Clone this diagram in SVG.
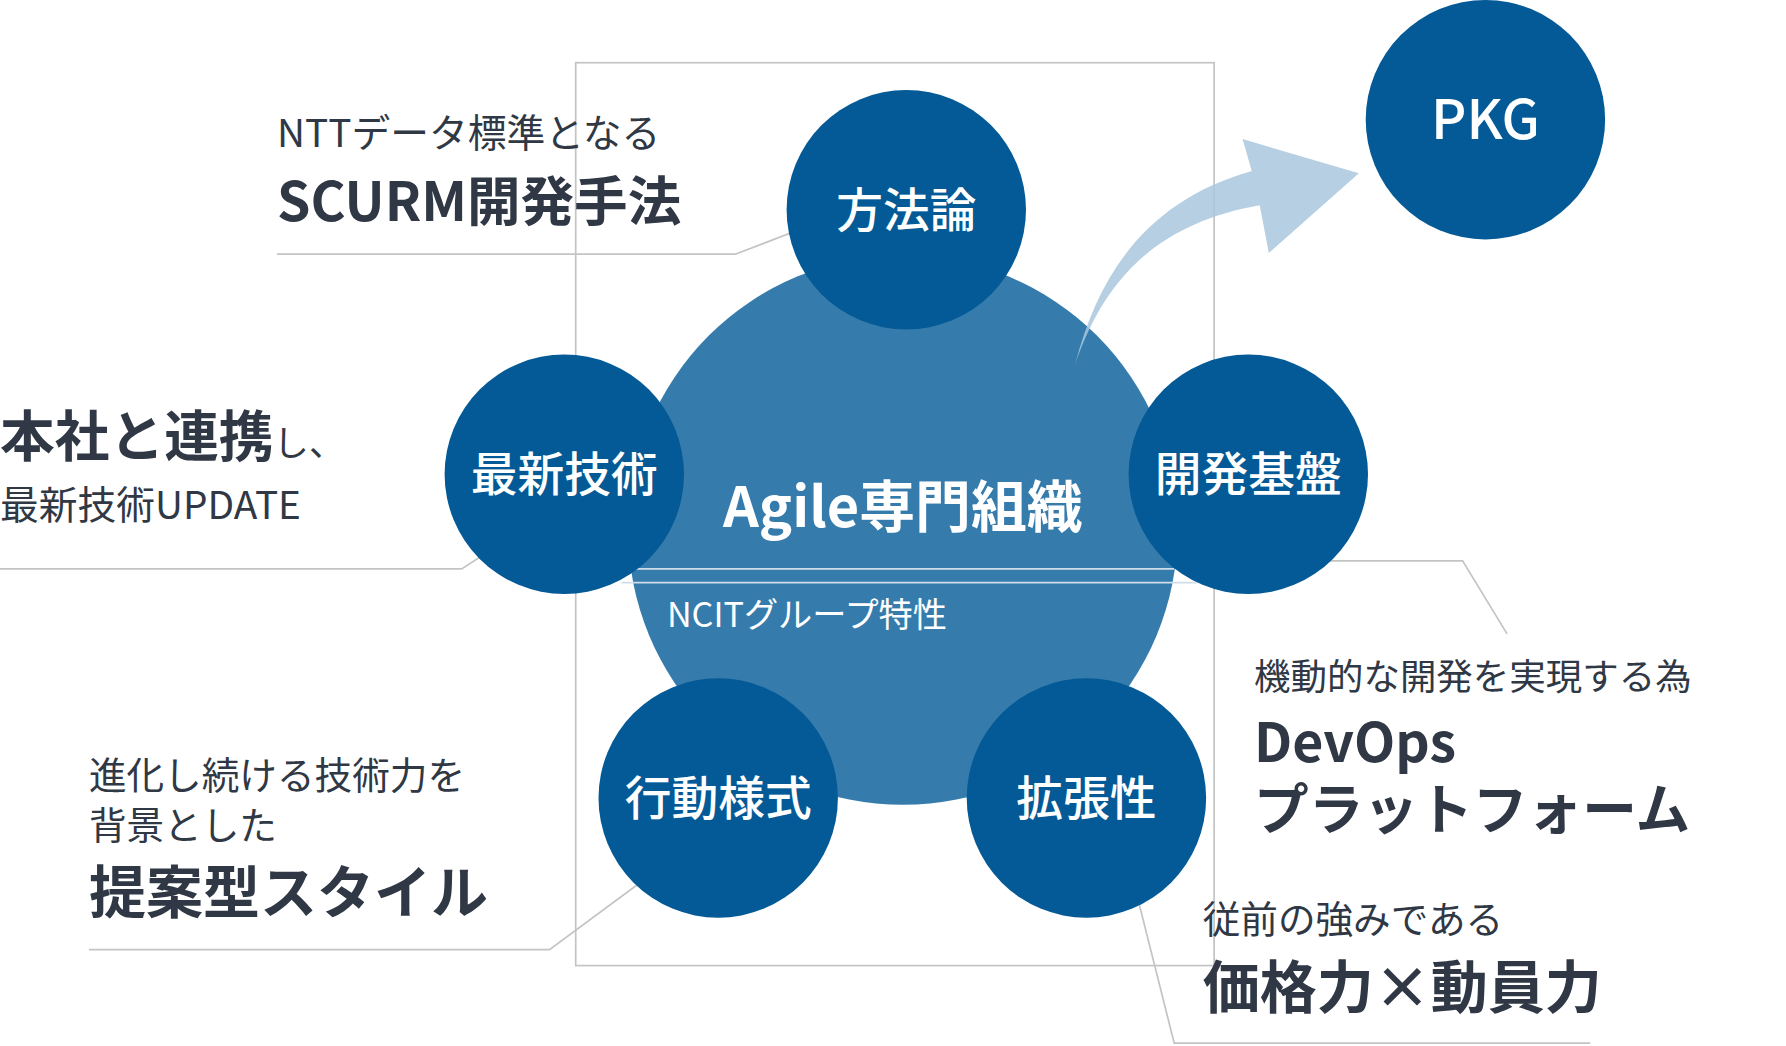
<svg xmlns="http://www.w3.org/2000/svg" width="1786" height="1046" viewBox="0 0 1786 1046">
<style>
.c{fill:#035a96}
.w{fill:#fff;font-family:"Noto Sans CJK JP","Noto Sans",sans-serif;text-anchor:middle;font-weight:500}
.t{fill:#2f3844;font-family:"Noto Sans CJK JP","Noto Sans",sans-serif}
.b{font-weight:700}
.l{fill:none;stroke:#c4c4c4;stroke-width:1.5}
</style>
<rect width="1786" height="1046" fill="#fff"/>
<g transform="scale(1.14)">
<rect x="505" y="55" width="560" height="792" class="l"/>
<g id="core"><circle cx="792" cy="465" r="241" fill="#357cad"/>
<text x="792" y="462" class="w b" font-size="49">Agile専門組織</text>
<text x="585" y="550" class="t" style="fill:#fff" font-size="30">NCITグループ特性</text></g>
<g id="connectors">
<path d="M943 320 C970 240 1020 195 1105 180 L1113 222 L1192 152 L1090 122 L1098 150 C1010 175 965 235 943 320 Z" fill="#a9c7de" opacity="0.85"/>
<path d="M718 195 L645 223 L243 223" class="l"/>
<path d="M442 475 L405 499 L0 499" class="l"/>
<path d="M1148 492 L1283 492 L1322 556" class="l"/>
<path d="M570 768 L482 833 L78 833" class="l"/>
<path d="M995 776 L1030 915 L1395 915" class="l"/>
<path d="M555 499 L1030 499 M545 511 L1050 511" class="l" style="stroke:#d0dde8"/>
</g>
<g id="n1"><circle cx="795" cy="184" r="105" class="c"/><text x="795" y="199" class="w" font-size="41">方法論</text></g>
<g id="n2"><circle cx="495" cy="416" r="105" class="c"/><text x="495" y="431" class="w" font-size="41">最新技術</text></g>
<g id="n3"><circle cx="1095" cy="416" r="105" class="c"/><text x="1095" y="431" class="w" font-size="41">開発基盤</text></g>
<g id="n4"><circle cx="630" cy="700" r="105" class="c"/><text x="630" y="715" class="w" font-size="41">行動様式</text></g>
<g id="n5"><circle cx="953" cy="700" r="105" class="c"/><text x="953" y="715" class="w" font-size="41">拡張性</text></g>
<g id="pkg"><circle cx="1303" cy="105" r="105" class="c"/><text x="1303" y="122" class="w" font-size="48">PKG</text></g>
<g id="labels">
<text x="243" y="129" class="t" font-size="34">NTTデータ標準となる</text>
<text x="243" y="194" class="t b" font-size="47">SCURM開発手法</text>
<text x="0" y="400" class="t" font-size="31"><tspan class="b" font-size="48">本社と連携</tspan>し、</text>
<text x="0" y="455" class="t" font-size="34">最新技術UPDATE</text>
<text x="1100" y="605" class="t" font-size="32">機動的な開発を実現する為</text>
<text x="1100" y="668" class="t b" font-size="47">DevOps</text>
<text x="1100" y="727" class="t b" font-size="48">プラットフォーム</text>
<text x="78" y="692" class="t" font-size="33">進化し続ける技術力を</text>
<text x="78" y="736" class="t" font-size="33">背景とした</text>
<text x="78" y="801" class="t b" font-size="50">提案型スタイル</text>
<text x="1055" y="818" class="t" font-size="33">従前の強みである</text>
<text x="1055" y="884" class="t b" font-size="50">価格力×動員力</text>
</g>
</g>
</svg>
